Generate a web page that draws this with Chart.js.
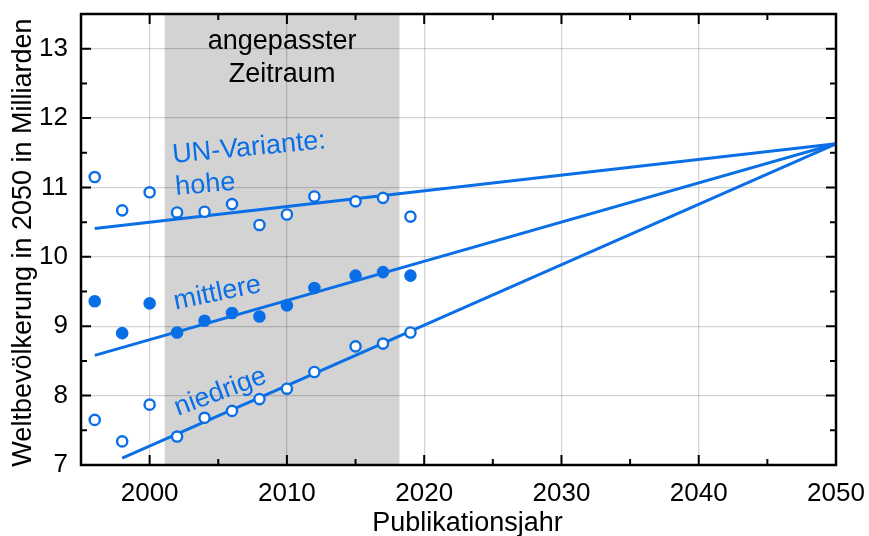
<!DOCTYPE html>
<html>
<head>
<meta charset="utf-8">
<script src="https://cdn.jsdelivr.net/npm/chart.js@4.4.1/dist/chart.umd.min.js"></script>
<style>
  html, body { margin: 0; padding: 0; background: #fff; }
  #wrap { width: 869px; height: 536px; }
</style>
</head>
<body>
<div id="wrap"><canvas id="c" width="869" height="536"></canvas></div>
<script>
// Publication year of each UN World Population Prospects revision
const years = [1996, 1998, 2000, 2002, 2004, 2006, 2008, 2010, 2012, 2015, 2017, 2019];

// Projected world population in 2050 (billions), per variant
const highVariant   = [11.15, 10.67, 10.93, 10.64, 10.65, 10.76, 10.46, 10.61, 10.87, 10.80, 10.85, 10.58];
const mediumVariant = [9.36, 8.90, 9.33, 8.91, 9.08, 9.19, 9.14, 9.30, 9.55, 9.73, 9.78, 9.73];
const lowVariant    = [7.65, 7.34, 7.87, 7.41, 7.68, 7.78, 7.95, 8.10, 8.34, 8.71, 8.75, 8.91];

// Trend lines fitted over the shaded period, extended to 2050
const highFitX = [1996, 2050];
const highFitY = [10.41, 11.63];
const mediumFitX = [1996, 2050];
const mediumFitY = [8.58, 11.63];
const lowFitX = [1998, 2050];
const lowFitY = [7.10, 11.63];

// Shaded fitting period
const fitPeriod = [2001.1, 2018.2];

// Axis ticks
const xTickValues = [2000, 2010, 2020, 2030, 2040, 2050];
const xMinorValues = [2005, 2015, 2025, 2035, 2045];
const yTickValues = [7, 8, 9, 10, 11, 12, 13];
const yMinorValues = [7.5, 8.5, 9.5, 10.5, 11.5, 12.5];

const FONT = '"Liberation Sans", Arial, Helvetica, sans-serif';
const BLUE = '#0a6fe6';

const toPoints = (xs, ys) => xs.map((v, i) => ({ x: v, y: ys[i] }));

// In-plot labels: [text, year, value, rotation in degrees, colour]
const plotLabels = [
  ['UN-Variante:', 2007.3, 11.46, -5.5, BLUE],
  ['hohe', 2004.1, 10.93, -5, BLUE],
  ['mittlere', 2005.05, 9.37, -11.5, BLUE],
  ['niedrige', 2005.35, 7.95, -20.5, BLUE],
  ['angepasster', 2009.65, 12.99, 0, '#000'],
  ['Zeitraum', 2009.65, 12.52, 0, '#000']
];

const decor = {
  id: 'decor',
  beforeDraw(chart) {
    const { ctx, chartArea: a, scales: { x } } = chart;
    const x0 = x.getPixelForValue(fitPeriod[0]);
    const x1 = x.getPixelForValue(fitPeriod[1]);
    ctx.save();
    ctx.fillStyle = '#d3d3d3';
    ctx.fillRect(x0, a.top, x1 - x0, a.bottom - a.top);
    ctx.restore();
  },
  afterDatasetsDraw(chart) {
    const { ctx, scales: { x, y } } = chart;
    ctx.save();
    ctx.font = '27px ' + FONT;
    ctx.textAlign = 'center';
    ctx.textBaseline = 'alphabetic';
    plotLabels.forEach(([text, xv, yv, deg, col]) => {
      ctx.save();
      ctx.translate(x.getPixelForValue(xv), y.getPixelForValue(yv));
      ctx.rotate(deg * Math.PI / 180);
      ctx.fillStyle = col;
      ctx.fillText(text, 0, 0);
      ctx.restore();
    });
    ctx.restore();
  },
  afterDraw(chart) {
    const { ctx, chartArea: a, scales: { x, y } } = chart;
    ctx.save();
    // inward tick marks on all four sides
    ctx.strokeStyle = '#000';
    ctx.lineWidth = 2;
    ctx.beginPath();
    const xt = (vals, len) => vals.forEach(v => {
      const px = x.getPixelForValue(v);
      ctx.moveTo(px, a.bottom); ctx.lineTo(px, a.bottom - len);
      ctx.moveTo(px, a.top); ctx.lineTo(px, a.top + len);
    });
    const yt = (vals, len) => vals.forEach(v => {
      const py = y.getPixelForValue(v);
      ctx.moveTo(a.left, py); ctx.lineTo(a.left + len, py);
      ctx.moveTo(a.right, py); ctx.lineTo(a.right - len, py);
    });
    xt(xTickValues, 10); xt(xMinorValues, 6);
    yt(yTickValues, 10); yt(yMinorValues, 6);
    ctx.stroke();
    // frame
    ctx.lineWidth = 2.5;
    ctx.strokeRect(a.left, a.top, a.right - a.left, a.bottom - a.top);
    // axis titles
    ctx.fillStyle = '#000';
    ctx.font = '27px ' + FONT;
    ctx.textAlign = 'center';
    ctx.textBaseline = 'alphabetic';
    ctx.fillText('Publikationsjahr', (a.left + a.right) / 2 + 9, 531);
    ctx.translate(31, (a.top + a.bottom) / 2 + 3);
    ctx.rotate(-Math.PI / 2);
    ctx.fillText('Weltbevölkerung in 2050 in Milliarden', 0, 0);
    ctx.restore();
  }
};

const fitLine = (xs, ys) => ({
  type: 'line',
  data: toPoints(xs, ys),
  borderColor: BLUE,
  borderWidth: 3,
  pointRadius: 0,
  fill: false,
  order: 2
});

const markers = (vals, filled) => ({
  type: 'scatter',
  data: toPoints(years, vals),
  pointRadius: 5.1,
  pointBorderWidth: 2.4,
  borderColor: BLUE,
  backgroundColor: filled ? BLUE : '#ffffff',
  order: 1
});

const gridStyle = { color: 'rgba(0,0,0,0.17)', lineWidth: 1.3, drawTicks: false };

new Chart(document.getElementById('c'), {
  type: 'scatter',
  data: {
    datasets: [
      fitLine(highFitX, highFitY),
      fitLine(mediumFitX, mediumFitY),
      fitLine(lowFitX, lowFitY),
      markers(highVariant, false),
      markers(mediumVariant, true),
      markers(lowVariant, false)
    ]
  },
  options: {
    responsive: false,
    animation: false,
    devicePixelRatio: 1,
    layout: { padding: { top: 14, right: 33, left: 0, bottom: 0 } },
    plugins: { legend: { display: false }, tooltip: { enabled: false } },
    scales: {
      x: {
        type: 'linear',
        min: 1995,
        max: 2050,
        afterBuildTicks: s => { s.ticks = xTickValues.map(v => ({ value: v })); },
        afterFit: s => { s.height = 71; s.paddingLeft = 0; s.paddingRight = 0; },
        grid: gridStyle,
        border: { display: false },
        ticks: {
          autoSkip: false,
          maxRotation: 0,
          padding: 13,
          color: '#000',
          font: { family: FONT, size: 26 },
          callback: v => String(v)
        }
      },
      y: {
        type: 'linear',
        min: 7,
        max: 13.5,
        afterBuildTicks: s => { s.ticks = yTickValues.map(v => ({ value: v })); },
        afterFit: s => { s.width = 81; s.paddingTop = 0; s.paddingBottom = 0; },
        grid: gridStyle,
        border: { display: false },
        ticks: {
          padding: 13,
          color: '#000',
          font: { family: FONT, size: 26 },
          callback: v => String(v)
        }
      }
    }
  },
  plugins: [decor]
});
</script>
</body>
</html>
